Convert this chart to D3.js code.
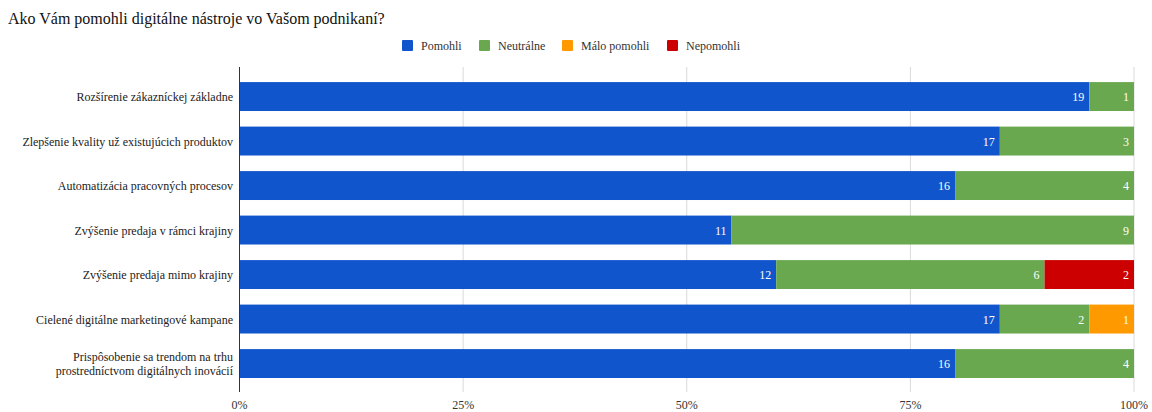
<!DOCTYPE html>
<html><head><meta charset="utf-8">
<script src="https://cdn.jsdelivr.net/npm/d3@7"></script>
<style>body{margin:0;background:#fff;} svg{display:block;} svg text{font-family:"Liberation Serif","Times New Roman",Times,serif !important;}</style>
</head><body>
<svg id="c" width="1152" height="412"></svg>
<script>
const title = "Ako Vám pomohli digitálne nástroje vo Vašom podnikaní?";
const categories = [
  ["Rozšírenie zákazníckej základne"],
  ["Zlepšenie kvality už existujúcich produktov"],
  ["Automatizácia pracovných procesov"],
  ["Zvýšenie predaja v rámci krajiny"],
  ["Zvýšenie predaja mimo krajiny"],
  ["Cielené digitálne marketingové kampane"],
  ["Prispôsobenie sa trendom na trhu","prostredníctvom digitálnych inovácií"]
];
const seriesNames = ["Pomohli","Neutrálne","Málo pomohli","Nepomohli"];
const pomohli    = [19,17,16,11,12,17,16];
const neutralne  = [1,3,4,9,6,2,4];
const maloPomohli= [0,0,0,0,0,1,0];
const nepomohli  = [0,0,0,0,2,0,0];
const tickValues = [0,0.25,0.5,0.75,1];
const tickLabels = ["0%","25%","50%","75%","100%"];
const colors = ["#1155cc","#6aa84f","#ff9900","#cc0000"];

const FONT = "'Liberation Serif', 'Times New Roman', serif";
const svg = d3.select("#c");
const rows = categories.map((c,i)=>({i, "Pomohli":pomohli[i], "Neutrálne":neutralne[i], "Málo pomohli":maloPomohli[i], "Nepomohli":nepomohli[i]}));
const stack = d3.stack().keys(seriesNames).offset(d3.stackOffsetExpand)(rows);

const x = d3.scaleLinear().domain([0,1]).range([239.5,1134]);
const y = d3.scaleBand().domain(d3.range(categories.length)).range([74.3,385.8]).paddingInner(0.35).paddingOuter(0.175);

function txt(sel){ return sel.attr("font-family",FONT); }

// title
txt(svg.append("text")).attr("x",8).attr("y",24).attr("font-size",16).attr("fill","#111").text(title);

// legend
const legX = [402,479,562,667];
seriesNames.forEach((s,k)=>{
  svg.append("rect").attr("x",legX[k]).attr("y",40).attr("width",11).attr("height",11).attr("rx",1).attr("fill",colors[k]);
  txt(svg.append("text")).attr("x",legX[k]+19).attr("y",49.5).attr("font-size",12).attr("fill","#333").text(s);
});

// gridlines
svg.append("g").selectAll("line").data(tickValues.slice(1)).join("line")
  .attr("x1",d=>x(d)).attr("x2",d=>x(d)).attr("y1",67).attr("y2",392)
  .attr("stroke","#d9d9d9").attr("stroke-width",1);

// bars
const g = svg.append("g");
stack.forEach((layer,k)=>{
  layer.forEach((d,i)=>{
    const v = [pomohli,neutralne,maloPomohli,nepomohli][k][i];
    if(!v) return;
    g.append("rect").attr("x",x(d[0])).attr("y",y(i)).attr("width",x(d[1])-x(d[0])).attr("height",y.bandwidth())
      .attr("fill",colors[k]);
    txt(g.append("text")).attr("x",x(d[1])-5).attr("y",y(i)+y.bandwidth()/2+4.5).attr("text-anchor","end")
      .attr("font-size",12).attr("fill","#fff").text(v);
  });
});

// baseline axis
svg.append("line").attr("x1",x(0)).attr("x2",x(0)).attr("y1",67).attr("y2",392).attr("stroke","#333").attr("stroke-width",1);

// x tick labels
svg.append("g").selectAll("text").data(tickValues).join("text")
  .attr("font-family",FONT)
  .attr("x",d=>x(d)).attr("y",409).attr("text-anchor","middle").attr("font-size",12).attr("fill","#333")
  .text((d,i)=>tickLabels[i]);

// category labels
categories.forEach((c,i)=>{
  const cy = y(i)+y.bandwidth()/2;
  const n = c.length;
  c.forEach((line,j)=>{
    txt(svg.append("text")).attr("x",233).attr("y",cy+4.5+(j-(n-1)/2)*14).attr("text-anchor","end")
      .attr("font-size",12).attr("fill","#222").text(line);
  });
});
</script>
</body></html>
